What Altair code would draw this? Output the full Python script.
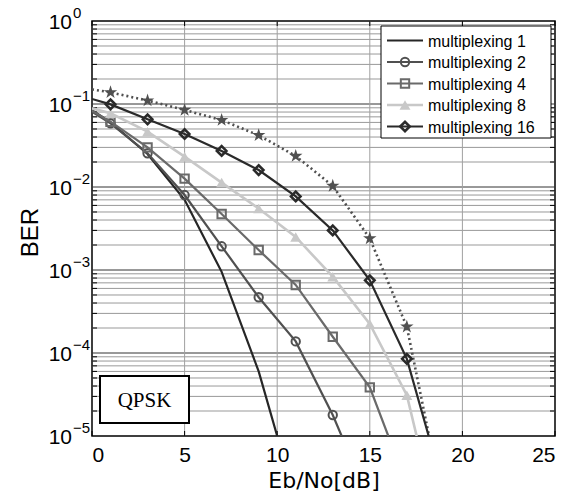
import altair as alt
import pandas as pd
import numpy as np

# ---- data ----
X1 = [0, 1, 3, 5, 7, 9, 10]
B1 = [0.084, 0.060, 0.025, 0.0070, 0.00095, 0.00006, 0.00001]

X2 = [0, 1, 3, 5, 7, 9, 11, 13, 13.48]
B2 = [0.081, 0.0585, 0.0255, 0.0080, 0.00193, 0.00047, 0.000138, 0.0000179, 0.00001]

X4 = [0, 1, 3, 5, 7, 9, 11, 13, 15, 16.0]
B4 = [0.083, 0.0612, 0.030, 0.0126, 0.00473, 0.00174, 0.00066, 0.000157, 0.0000386, 0.00001]

X8 = [0, 1, 3, 5, 7, 9, 11, 13, 15, 17, 17.53]
B8 = [0.0887, 0.0773, 0.0464, 0.0232, 0.0113, 0.0055, 0.0025, 0.00083, 0.000224, 0.000031, 0.00001]

X16 = [0, 1, 3, 5, 7, 9, 11, 13, 15, 17, 18.18]
B16 = [0.115, 0.099, 0.0654, 0.0435, 0.0272, 0.016, 0.0077, 0.0030, 0.00075, 0.000085, 0.00001]

XT = [0, 1, 3, 5, 7, 9, 11, 13, 15, 17, 18.2]
BT = [0.150, 0.138, 0.110, 0.0847, 0.064, 0.042, 0.0236, 0.0103, 0.0024, 0.000207, 0.00001]

LEGEND = ["multiplexing 1", "multiplexing 2", "multiplexing 4", "multiplexing 8", "multiplexing 16"]
X_TICKS = [0, 5, 10, 15, 20, 25]
DECADES = [0, -1, -2, -3, -4, -5]

W, H = 463, 415
xscale = alt.Scale(domain=[0, 25], nice=False, zero=False)
yscale = alt.Scale(type="log", domain=[1e-5, 1], nice=False)
XAX = alt.Axis(values=X_TICKS, title="Eb/No[dB]", grid=False, ticks=False, domain=False,
               labelFont="Liberation Sans", labelFontSize=21, labelColor="black", labelPadding=8,
               titleFont="DejaVu Sans", titleFontSize=22, titleFontWeight="normal", titleColor="black",
               titlePadding=5)


def X(field):
    return alt.X(field, scale=xscale, axis=XAX)


def Y(field):
    return alt.Y(field, scale=yscale, axis=None)


minor_vals = [m * 10.0 ** e for e in range(-5, 0) for m in range(2, 10)]
major_vals = [10.0 ** e for e in DECADES]

layers = []

# grid
layers.append(alt.Chart(pd.DataFrame({"v": minor_vals})).mark_rule(color="#999999", strokeWidth=1).encode(
    y=Y("v:Q")))
layers.append(alt.Chart(pd.DataFrame({"v": major_vals[1:-1]})).mark_rule(color="#333333", strokeWidth=1).encode(
    y=Y("v:Q")))
layers.append(alt.Chart(pd.DataFrame({"v": X_TICKS[1:-1]})).mark_rule(color="#a0a0a0", strokeWidth=1).encode(
    x=X("v:Q")))

# inside ticks
for x0, x1 in [(0, 5), (W - 5, W)]:
    layers.append(alt.Chart(pd.DataFrame({"v": minor_vals})).mark_rule(color="black").encode(
        y=Y("v:Q"), x=alt.value(x0), x2=alt.value(x1)))
for y0, y1 in [(H, H - 5), (0, 5)]:
    layers.append(alt.Chart(pd.DataFrame({"v": X_TICKS})).mark_rule(color="black").encode(
        x=X("v:Q"), y=alt.value(y0), y2=alt.value(y1)))


def series(xs, bs, color, width=2, dash=None, marker=None, msize=60, mfilled=False, mstroke=1.5):
    df = pd.DataFrame({"x": xs, "b": bs})
    kw = dict(color=color, strokeWidth=width, clip=True)
    if dash:
        kw["strokeDash"] = dash
    out = [alt.Chart(df).mark_line(**kw).encode(x=X("x:Q"), y=Y("b:Q"))]
    if marker:
        dm = df[(df["b"] > 1e-5) & (df["x"] > 0)]
        pk = dict(shape=marker, size=msize, filled=mfilled, color=color, opacity=1, clip=True)
        if not mfilled:
            pk["strokeWidth"] = mstroke
        out.append(alt.Chart(dm).mark_point(**pk).encode(x=X("x:Q"), y=Y("b:Q")))
    return out


STAR = "M0,-1L0.2245,-0.309L0.951,-0.309L0.363,0.118L0.588,0.809L0,0.382L-0.588,0.809L-0.363,0.118L-0.951,-0.309L-0.2245,-0.309Z"
STYLES = [
    dict(color="#262626", width=2.2),
    dict(color="#505050", width=2.2, marker="circle", msize=70, mstroke=2),
    dict(color="#6a6a6a", width=2.2, marker="square", msize=70, mstroke=2),
    dict(color="#c8c8c8", width=2.6, marker="triangle-up", msize=120, mfilled=True),
    dict(color="#2a2a2a", width=2.2, marker="diamond", msize=90, mstroke=2.6),
]

layers += series(XT, BT, "#505050", width=2.6, dash=[2, 3], marker=STAR, msize=200, mfilled=True)
for (xs, bs), st in zip([(X1, B1), (X2, B2), (X4, B4), (X8, B8), (X16, B16)], STYLES):
    layers += series(xs, bs, **st)

# y tick labels 10^n
dlab = pd.DataFrame({"v": major_vals, "base": ["10"] * len(DECADES),
                     "exp": [("−" + str(-e)) if e < 0 else str(e) for e in DECADES]})
layers.append(alt.Chart(dlab).mark_text(align="right", baseline="middle", font="Liberation Sans", fontSize=21,
                                        color="black", dy=2).encode(
    y=Y("v:Q"), x=alt.value(-20), text="base:N"))
layers.append(alt.Chart(dlab).mark_text(align="left", baseline="middle", font="Liberation Sans", fontSize=15,
                                        color="black", dy=-8).encode(
    y=Y("v:Q"), x=alt.value(-19), text="exp:N"))

# y title
layers.append(alt.Chart(pd.DataFrame({"t": ["BER"]})).mark_text(
    angle=270, font="Liberation Sans", fontSize=24, color="black", baseline="middle", align="center").encode(
    x=alt.value(-61), y=alt.value(H / 2 + 4), text="t:N"))

# legend (manual)
LX0, LX1, LY0, LY1 = 289, 459, 5, 117
layers.append(alt.Chart(pd.DataFrame({"a": [0]})).mark_rect(fill="white", stroke="black", strokeWidth=1).encode(
    x=alt.value(LX0), x2=alt.value(LX1), y=alt.value(LY0), y2=alt.value(LY1)))
for i, (name, st) in enumerate(zip(LEGEND, STYLES)):
    yy = 19.5 + 21.5 * i
    d = pd.DataFrame({"s": [name]})
    if st.get("marker"):
        pk = dict(shape=st["marker"], size=st["msize"], filled=st.get("mfilled", False), color=st["color"], opacity=1)
        if not st.get("mfilled", False):
            pk["strokeWidth"] = st.get("mstroke", 1.5)
        layers.append(alt.Chart(d).mark_point(**pk).encode(x=alt.value(313), y=alt.value(yy)))
    layers.append(alt.Chart(d).mark_rule(color=st["color"], strokeWidth=st["width"]).encode(
        x=alt.value(295), x2=alt.value(331), y=alt.value(yy)))
    layers.append(alt.Chart(d).mark_text(align="left", baseline="middle", font="Liberation Sans", fontSize=16,
                                         color="black").encode(x=alt.value(336), y=alt.value(yy + 1), text="s:N"))

# QPSK box
layers.append(alt.Chart(pd.DataFrame({"t": ["QPSK"]})).mark_rect(fill="white", stroke="black", strokeWidth=2).encode(
    x=alt.value(8), x2=alt.value(97), y=alt.value(355), y2=alt.value(402)))
layers.append(alt.Chart(pd.DataFrame({"t": ["QPSK"]})).mark_text(
    font="Liberation Serif", fontSize=21, color="black", baseline="middle", align="center").encode(
    x=alt.value(52.5), y=alt.value(380), text="t:N"))

chart = alt.layer(*layers).properties(
    width=W, height=H, autosize="none",
    padding={"left": 92, "top": 21, "right": 23, "bottom": 65},
    background="white",
).configure_view(stroke="black", strokeWidth=1.5)

chart.save("out.html", embed_options={"renderer": "svg", "actions": False})
